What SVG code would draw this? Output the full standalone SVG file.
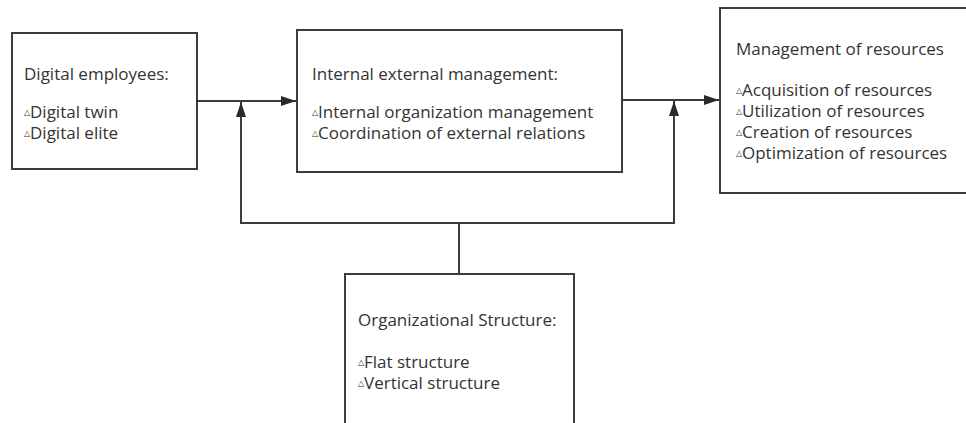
<svg xmlns="http://www.w3.org/2000/svg" width="966" height="423" viewBox="0 0 966 423">
<defs>
<style>
.box{fill:#fff;stroke:#3c3c3c;stroke-width:2}
.t{font-family:"Open Sans","Noto Sans","Liberation Sans",sans-serif;font-size:17px;fill:#333}
.b{font-size:8px}
.c{fill:none;stroke:#3c3c3c;stroke-width:2}
</style>
<marker id="ah" markerWidth="15" markerHeight="10" refX="15" refY="5" orient="auto" markerUnits="userSpaceOnUse">
<path d="M0,0 L15,5 L0,10 Z" fill="#2a2a2a"/>
</marker>
</defs>
<rect width="966" height="423" fill="#fff"/>
<g id="connectors">
<line class="c" x1="197" y1="101" x2="296" y2="101" marker-end="url(#ah)"/>
<line class="c" x1="622" y1="100" x2="719" y2="100" marker-end="url(#ah)"/>
<polyline class="c" points="459,274 459,223 241,223 241,102" marker-end="url(#ah)"/>
<polyline class="c" points="459,223 674,223 674,101" marker-end="url(#ah)"/>
</g>
<g id="digital-employees">
<rect class="box" x="12" y="33" width="185" height="136"/>
<text class="t" x="24" y="80">Digital employees:</text>
<text class="t" x="24" y="118"><tspan class="b" dy="-3">△</tspan><tspan dy="3">Digital twin</tspan></text>
<text class="t" x="24" y="139"><tspan class="b" dy="-3">△</tspan><tspan dy="3">Digital elite</tspan></text>
</g>
<g id="internal-external-management">
<rect class="box" x="297" y="30" width="325" height="142"/>
<text class="t" x="312" y="80">Internal external management:</text>
<text class="t" x="312" y="118"><tspan class="b" dy="-3">△</tspan><tspan dy="3">Internal organization management</tspan></text>
<text class="t" x="312" y="139"><tspan class="b" dy="-3">△</tspan><tspan dy="3">Coordination of external relations</tspan></text>
</g>
<g id="management-of-resources">
<rect class="box" x="720" y="8" width="260" height="185"/>
<text class="t" x="736" y="55">Management of resources</text>
<text class="t" x="736" y="96"><tspan class="b" dy="-3">△</tspan><tspan dy="3">Acquisition of resources</tspan></text>
<text class="t" x="736" y="117"><tspan class="b" dy="-3">△</tspan><tspan dy="3">Utilization of resources</tspan></text>
<text class="t" x="736" y="138"><tspan class="b" dy="-3">△</tspan><tspan dy="3">Creation of resources</tspan></text>
<text class="t" x="736" y="159"><tspan class="b" dy="-3">△</tspan><tspan dy="3">Optimization of resources</tspan></text>
</g>
<g id="organizational-structure">
<rect class="box" x="345" y="274" width="229" height="160"/>
<text class="t" x="358" y="326">Organizational Structure:</text>
<text class="t" x="358" y="368"><tspan class="b" dy="-3">△</tspan><tspan dy="3">Flat structure</tspan></text>
<text class="t" x="358" y="389"><tspan class="b" dy="-3">△</tspan><tspan dy="3">Vertical structure</tspan></text>
</g>
</svg>
